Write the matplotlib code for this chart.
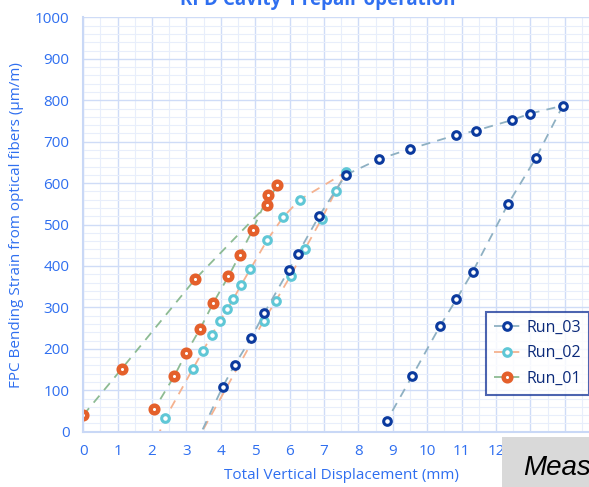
import matplotlib
matplotlib.use("Agg")
import matplotlib.pyplot as plt
from matplotlib.ticker import MultipleLocator, FuncFormatter
from matplotlib.patches import Rectangle

# Run_01: loading then unloading
run01_x = [0.0, 1.12, 3.26, 5.35, 5.62, 5.38, 4.92, 4.55, 4.22, 3.78, 3.40, 2.99, 2.65, 2.07]
run01_y = [40, 152, 369, 548, 595, 571, 486, 427, 375, 311, 249, 190, 135, 55]

# Run_02 (first and last points sit below the visible range)
run02_x = [2.15, 2.38, 3.18, 3.48, 3.73, 3.97, 4.19, 4.36, 4.58, 4.86, 5.35, 5.81, 6.29,
           7.64, 7.34, 6.93, 6.44, 6.03, 5.59, 5.24, 3.25]
run02_y = [-15, 32, 151, 195, 233, 267, 297, 320, 353, 393, 463, 518, 560,
           627, 581, 514, 440, 377, 315, 267, -30]

# Run_03
run03_x = [3.27, 4.05, 4.40, 4.88, 5.26, 5.97, 6.24, 6.85, 7.63, 8.60, 9.51, 10.83, 11.42,
           12.45, 12.99, 13.94, 13.16, 12.35, 11.32, 10.85, 10.37, 9.56, 8.82]
run03_y = [-30, 108, 161, 226, 286, 390, 430, 520, 620, 658, 683, 716, 727,
           752, 768, 787, 661, 550, 386, 320, 255, 134, 26]

blue_txt = "#2f6ff0"
plt.rcParams['font.family'] = ['Open Sans', 'DejaVu Sans']

fig = plt.figure(figsize=(5.89, 4.87), dpi=100)
ax = fig.add_axes([0.1414, 0.1136, 0.876, 0.8505])

ax.set_xlim(0, 15)
ax.set_ylim(0, 1000)
ax.xaxis.set_major_locator(MultipleLocator(1))
ax.xaxis.set_minor_locator(MultipleLocator(0.5))
# labels past 12 sit under the grey box anyway
ax.xaxis.set_major_formatter(FuncFormatter(lambda v, p: "%d" % v if v <= 12 else ""))
ax.yaxis.set_major_locator(MultipleLocator(100))
ax.yaxis.set_minor_locator(MultipleLocator(20))
ax.grid(which="major", color="#cfdcf7", lw=1.0)
ax.grid(which="minor", color="#e8eefb", lw=0.8)
ax.set_axisbelow(True)
for s in ["top", "right"]:
    ax.spines[s].set_visible(False)
for s in ["left", "bottom"]:
    ax.spines[s].set_color("#c9d8f6")
    ax.spines[s].set_linewidth(1.5)
ax.tick_params(which="both", length=0, labelsize=11, labelcolor=blue_txt)
ax.tick_params(axis="x", pad=9)
ax.tick_params(axis="y", pad=10)

dash = (5, 4)
ax.plot(run01_x, run01_y, ls="--", dashes=dash, color="#8dbb93", lw=1.3,
        marker="o", ms=5.5, mfc="white", mec="#e4602b", mew=3.2, label="Run_01")
ax.plot(run02_x, run02_y, ls="--", dashes=dash, color="#f5b28f", lw=1.3,
        marker="o", ms=5.5, mfc="white", mec="#5fc7d6", mew=2.2, label="Run_02")
ax.plot(run03_x, run03_y, ls="--", dashes=dash, color="#8eb0c2", lw=1.3,
        marker="o", ms=5.5, mfc="white", mec="#0b3a9e", mew=2.2, label="Run_03")

handles, labels = ax.get_legend_handles_labels()
leg = ax.legend(handles[::-1], labels[::-1], loc="upper right",
                bbox_to_anchor=(0.98, 0.29), fontsize=11.5, frameon=True,
                fancybox=False, handlelength=1.7, handletextpad=0.35,
                borderpad=0.5, borderaxespad=0, labelspacing=0.6)
leg.get_frame().set_edgecolor("#1f3d9c")
leg.get_frame().set_linewidth(1.5)
for t in leg.get_texts():
    t.set_color("#0b2a7a")

ax.set_xlabel("Total Vertical Displacement (mm)", fontsize=11, color=blue_txt, labelpad=6)
ax.set_ylabel("FPC Bending Strain from optical fibers (\u03bcm/m)", fontsize=11,
              color=blue_txt, labelpad=8)

fig.text(0.54, 1 - 5 / 487, "RPD Cavity 1 repair operation", ha="center", va="baseline",
         fontsize=13.5, fontweight="bold", color=blue_txt)

fig.patches.append(Rectangle((502 / 589, 0), 1, 50 / 487, transform=fig.transFigure,
                             facecolor="#d9d9d9", edgecolor="none", zorder=5))
fig.text(523 / 589, 12 / 487, "Measured", fontsize=20, style="italic",
         family="Liberation Sans", color="black", zorder=6)

fig.savefig("out.png", dpi=100)
